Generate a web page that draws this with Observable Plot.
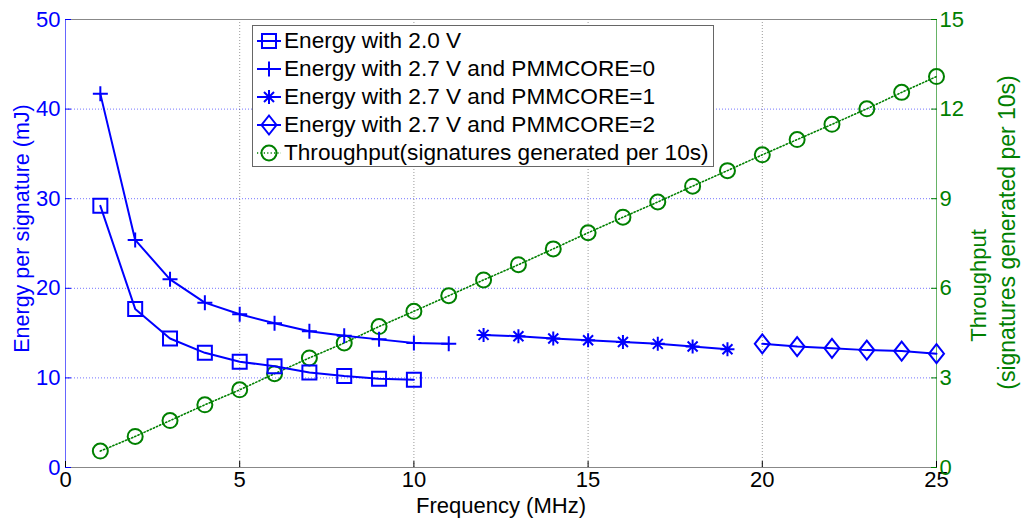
<!DOCTYPE html>
<html>
<head>
<meta charset="utf-8">
<script src="https://cdn.jsdelivr.net/npm/d3@7"></script>
<script src="https://cdn.jsdelivr.net/npm/@observablehq/plot@0.6"></script>
<style>
  html, body { margin: 0; padding: 0; background: #fff; }
  #wrap { position: relative; width: 1021px; height: 521px; font-family: "Liberation Sans", Arial, sans-serif; }
  #legend { position: absolute; left: 252px; top: 25px; width: 462px; height: 142px; background: #fff; border: 1px solid #666; box-sizing: border-box; }
  .row { position: absolute; left: 0; height: 28px; display: flex; align-items: center; font-size: 22.6px; color: #000; white-space: nowrap; }
  .row svg { display: block; }
</style>
</head>
<body>
<div id="wrap"></div>
<script>
// ---------- data ----------
const freq20 = [1, 2, 3, 4, 5, 6, 7, 8, 9, 10];
const energy20 = [29.2, 17.7, 14.4, 12.8, 11.8, 11.3, 10.6, 10.2, 9.9, 9.8];

const freqPm0 = [1, 2, 3, 4, 5, 6, 7, 8, 9, 10, 11];
const energyPm0 = [41.7, 25.4, 21.0, 18.4, 17.1, 16.1, 15.2, 14.7, 14.3, 13.9, 13.8];

const freqPm1 = [12, 13, 14, 15, 16, 17, 18, 19];
const energyPm1 = [14.8, 14.65, 14.4, 14.2, 14.0, 13.8, 13.5, 13.2];

const freqPm2 = [20, 21, 22, 23, 24, 25];
const energyPm2 = [13.8, 13.5, 13.3, 13.1, 13.0, 12.7];

const freqTp = [1, 2, 3, 4, 5, 6, 7, 8, 9, 10, 11, 12, 13, 14, 15, 16, 17, 18, 19, 20, 21, 22, 23, 24, 25];
const throughput = [0.55, 1.04, 1.57, 2.10, 2.60, 3.14, 3.67, 4.17, 4.72, 5.23, 5.75, 6.28, 6.79, 7.32, 7.86, 8.38, 8.89, 9.42, 9.94, 10.47, 10.98, 11.49, 12.01, 12.56, 13.09];

const xTicks = [0, 5, 10, 15, 20, 25];
const leftTicks = [0, 10, 20, 30, 40, 50];
const rightTicks = [0, 3, 6, 9, 12, 15];
const xGridTicks = [5, 10, 15, 20];
const yGridTicks = [10, 20, 30, 40];
const xDomain = [0, 25];
const leftDomain = [0, 50];
const rightDomain = [0, 15];

const legendLabels = [
  "Energy with 2.0 V",
  "Energy with 2.7 V and PMMCORE=0",
  "Energy with 2.7 V and PMMCORE=1",
  "Energy with 2.7 V and PMMCORE=2",
  "Throughput(signatures generated per 10s)"
];
const xLabel = "Frequency (MHz)";
const leftLabel = "Energy per signature (mJ)";
const rightLabel1 = "Throughput";
const rightLabel2 = "(signatures generated per 10s)";

// ---------- styling ----------
const BLUE = "#0000ff";
const GREEN = "#008000";
const FONT = "'Liberation Sans', Arial, sans-serif";
const k = leftDomain[1] / rightDomain[1]; // right axis -> left axis units

// ---------- symbols ----------
const symSquare = {draw(c) { const s = 7; c.moveTo(-s, -s); c.lineTo(s, -s); c.lineTo(s, s); c.lineTo(-s, s); c.closePath(); }};
const symPlus = {draw(c) { const s = 7.5; c.moveTo(-s, 0); c.lineTo(s, 0); c.moveTo(0, -s); c.lineTo(0, s); }};
const symAst = {draw(c) { const s = 7, d = 5; c.moveTo(-s, 0); c.lineTo(s, 0); c.moveTo(0, -s); c.lineTo(0, s); c.moveTo(-d, -d); c.lineTo(d, d); c.moveTo(-d, d); c.lineTo(d, -d); }};
const symDiamond = {draw(c) { const w = 7.5, h = 9.5; c.moveTo(0, -h); c.lineTo(w, 0); c.lineTo(0, h); c.lineTo(-w, 0); c.closePath(); }};
const symCircle = {draw(c) { const r = 7.5; c.moveTo(r, 0); c.arc(0, 0, r, 0, 2 * Math.PI); c.closePath(); }};

const rows = (xs, ys) => xs.map((x, i) => ({x, y: ys[i]}));
const d20 = rows(freq20, energy20);
const dPm0 = rows(freqPm0, energyPm0);
const dPm1 = rows(freqPm1, energyPm1);
const dPm2 = rows(freqPm2, energyPm2);
const dTp = rows(freqTp, throughput.map(v => v * k));

const energySeries = [
  {data: d20, sym: symSquare},
  {data: dPm0, sym: symPlus},
  {data: dPm1, sym: symAst},
  {data: dPm2, sym: symDiamond}
];

const chart = Plot.plot({
  width: 1021,
  height: 521,
  marginLeft: 65,
  marginRight: 85,
  marginTop: 19,
  marginBottom: 54,
  style: {fontFamily: FONT, fontSize: "22px", background: "#fff", overflow: "visible"},
  x: {domain: xDomain},
  y: {domain: leftDomain},
  marks: [
    Plot.gridY(yGridTicks, {stroke: BLUE, strokeOpacity: 0.55, strokeDasharray: "1,2"}),
    Plot.gridX(xGridTicks, {stroke: "#000", strokeOpacity: 0.4, strokeDasharray: "1,2"}),
    Plot.frame({anchor: "top", stroke: "#888", strokeOpacity: 1}),
    Plot.frame({anchor: "bottom", stroke: "#888", strokeOpacity: 1}),
    Plot.frame({anchor: "left", stroke: BLUE, strokeOpacity: 0.6}),
    Plot.frame({anchor: "right", stroke: GREEN, strokeOpacity: 0.6}),
    Plot.axisX({ticks: xTicks, tickSize: -6, tickPadding: 10, stroke: "#000", fill: "#000", label: null, fontSize: 22}),
    Plot.axisY({ticks: leftTicks, anchor: "left", tickSize: -6, tickPadding: 11, stroke: BLUE, fill: BLUE, label: null, fontSize: 22}),
    Plot.axisY({ticks: rightTicks.map(t => t * k), anchor: "right", tickSize: -6, tickPadding: 9, stroke: GREEN, fill: GREEN, label: null, fontSize: 22,
      tickFormat: v => String(Math.round(v / k))}),
    // throughput
    Plot.line(dTp, {x: "x", y: "y", stroke: GREEN, strokeWidth: 1.6, strokeDasharray: "1.2,2.2"}),
    Plot.dot(dTp, {x: "x", y: "y", symbol: symCircle, r: 1, stroke: GREEN, fill: "none", strokeWidth: 2}),
    // energy series
    ...energySeries.flatMap(s => [
      Plot.line(s.data, {x: "x", y: "y", stroke: BLUE, strokeWidth: 2}),
      Plot.dot(s.data, {x: "x", y: "y", symbol: s.sym, r: 1, stroke: BLUE, fill: "none", strokeWidth: 2})
    ]),
    // axis titles
    Plot.text([xLabel], {frameAnchor: "bottom", dy: 38, textAnchor: "middle", lineAnchor: "middle", fill: "#000", fontSize: 22}),
    Plot.text([leftLabel], {frameAnchor: "left", dx: -43, dy: -15, textAnchor: "middle", lineAnchor: "middle", rotate: -90, fill: BLUE, fontSize: 21.5}),
    Plot.text([rightLabel1], {frameAnchor: "right", dx: 42, dy: 42, textAnchor: "middle", lineAnchor: "middle", rotate: -90, fill: GREEN, fontSize: 22}),
    Plot.text([rightLabel2], {frameAnchor: "right", dx: 71, dy: -11, textAnchor: "middle", lineAnchor: "middle", rotate: -90, fill: GREEN, fontSize: 23})
  ]
});

const wrap = document.getElementById("wrap");
wrap.appendChild(chart);

// ---------- legend ----------
const legendSyms = [
  {sym: symSquare, color: BLUE, dash: null, w: 2},
  {sym: symPlus, color: BLUE, dash: null, w: 2},
  {sym: symAst, color: BLUE, dash: null, w: 2},
  {sym: symDiamond, color: BLUE, dash: null, w: 2},
  {sym: symCircle, color: GREEN, dash: "1.2,2.2", w: 1.6}
];
const legend = document.createElement("div");
legend.id = "legend";
wrap.appendChild(legend);
legendLabels.forEach((lab, i) => {
  const row = document.createElement("div");
  row.className = "row";
  row.style.top = (1 + i * 28) + "px";
  const svg = d3.create("svg").attr("width", 31).attr("height", 28);
  svg.append("line").attr("x1", 4).attr("x2", 28).attr("y1", 14).attr("y2", 14)
    .attr("stroke", legendSyms[i].color).attr("stroke-width", legendSyms[i].w)
    .attr("stroke-dasharray", legendSyms[i].dash);
  const p = d3.path();
  legendSyms[i].sym.draw(p);
  svg.append("path").attr("d", p.toString()).attr("transform", "translate(16,14)")
    .attr("fill", "none").attr("stroke", legendSyms[i].color).attr("stroke-width", 2);
  row.appendChild(svg.node());
  const span = document.createElement("span");
  span.textContent = lab;
  row.appendChild(span);
  legend.appendChild(row);
});
</script>
</body>
</html>
